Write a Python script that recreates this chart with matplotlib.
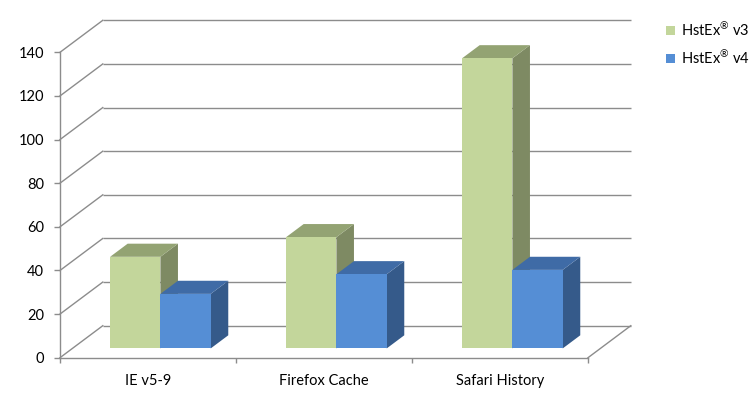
import matplotlib
matplotlib.use("Agg")
import matplotlib.pyplot as plt
from matplotlib.patches import Polygon, Rectangle, Patch

categories = ["IE v5-9", "Firefox Cache", "Safari History"]
series_names = ["HstEx® v3", "HstEx® v4"]
v3_values = [42, 51, 133]
v4_values = [25, 34, 36]
y_ticks = [0, 20, 40, 60, 80, 100, 120, 140]

front_colors = ["#C3D69B", "#558ED5"]
top_colors = ["#93A373", "#3F6BA6"]
side_colors = ["#7E8A63", "#355A8A"]
grid_color = "#8C8C8C"

plt.rcParams['font.family'] = ['Lato', 'DejaVu Sans']
plt.rcParams['mathtext.fontset'] = 'custom'
plt.rcParams['mathtext.rm'] = 'Lato'
plt.rcParams['mathtext.it'] = 'Lato'
plt.rcParams['mathtext.default'] = 'rm'

W, H = 752, 399
fig = plt.figure(figsize=(W / 100, H / 100), dpi=100)
# front plane of the 3D box in pixels
x_left, x_right = 60, 588
y_bot, y_top = 357.7, 52.3
ax = fig.add_axes([x_left / W, 1 - y_bot / H, (x_right - x_left) / W, (y_bot - y_top) / H])
ax.set_xlim(-0.5, len(categories) - 0.5)
ax.set_ylim(0, 140)

# oblique depth offset in data units
DX = 42.8 / 176.0
DY = 32.0 / ((y_bot - y_top) / 140.0)

xmin, xmax = -0.5, len(categories) - 0.5

# back wall gridlines + left wall diagonals
for v in y_ticks:
    ax.plot([xmin + DX, xmax + DX], [v + DY, v + DY], color=grid_color, lw=1.0,
            clip_on=False, zorder=1, solid_capstyle='butt')
    ax.plot([xmin, xmin + DX], [v, v + DY], color=grid_color, lw=1.0,
            clip_on=False, zorder=1)
# floor right edge
ax.plot([xmax, xmax + DX], [0, DY], color=grid_color, lw=1.0, clip_on=False, zorder=1)

# bars
group_w = 100.6 / 176.0
bw = group_w / 2
d0, d1 = 0.29, 0.70
ddx, ddy = (d1 - d0) * DX, (d1 - d0) * DY
all_values = [v3_values, v4_values]
for i in range(len(categories)):
    for s, vals in enumerate(all_values):
        val = vals[i]
        x0 = i - group_w / 2 + s * bw + d0 * DX
        y0 = d0 * DY
        front = Rectangle((x0, y0), bw, val, facecolor=front_colors[s],
                          edgecolor='none', clip_on=False, zorder=3)
        top = Polygon([(x0, y0 + val), (x0 + bw, y0 + val),
                       (x0 + bw + ddx, y0 + val + ddy), (x0 + ddx, y0 + val + ddy)],
                      closed=True, facecolor=top_colors[s], edgecolor='none',
                      clip_on=False, zorder=3)
        side = Polygon([(x0 + bw, y0), (x0 + bw + ddx, y0 + ddy),
                        (x0 + bw + ddx, y0 + val + ddy), (x0 + bw, y0 + val)],
                       closed=True, facecolor=side_colors[s], edgecolor='none',
                       clip_on=False, zorder=3)
        for p in (side, top, front):
            ax.add_patch(p)

# axes styling
for sp in ("top", "right"):
    ax.spines[sp].set_visible(False)
for sp in ("left", "bottom"):
    ax.spines[sp].set_color(grid_color)
    ax.spines[sp].set_linewidth(1.0)
ax.set_facecolor('none')
ax.set_yticks(y_ticks)
ax.tick_params(axis='y', length=4.3, width=1.0, color=grid_color, pad=7,
               labelsize=10.5, labelcolor='#000000')
ax.set_xticks([xmin + k for k in range(len(categories) + 1)])
ax.set_xticklabels([])
ax.set_xticks(list(range(len(categories))), minor=True)
ax.set_xticklabels(categories, minor=True)
ax.tick_params(axis='x', which='major', length=3.5, width=1.0, color=grid_color)
ax.tick_params(axis='x', which='minor', length=0, pad=12, labelsize=10.5,
               labelcolor='#000000')

legend_labels = [n.replace("®", "$^{®}$") for n in series_names]
handles = [Patch(facecolor=front_colors[s], edgecolor='none') for s in range(2)]
fig.legend(handles, legend_labels, loc='upper left',
           bbox_to_anchor=(666 / W, 1 - 21 / H), frameon=False, fontsize=10.5,
           handlelength=0.6, handleheight=0.6, handletextpad=0.4,
           labelspacing=0.73, borderpad=0, borderaxespad=0)

fig.savefig("out.png", dpi=100)
